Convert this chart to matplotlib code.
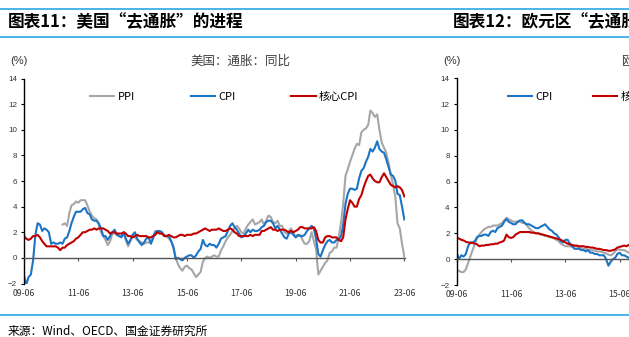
import matplotlib.pyplot as plt
from matplotlib.lines import Line2D
import pandas as pd

plt.rcParams['font.family'] = ['Noto Sans CJK SC', 'DejaVu Sans']

W, H = 629, 337

# --- US, monthly YoY %, 2009-06 .. 2023-06
us_dates = pd.date_range('2009-06-01', '2023-06-01', freq='MS')
us_cpi = [
    -1.4, -2.1, -1.5, -1.3, -0.2, 1.8, 2.7,
    2.6, 2.1, 2.3, 2.2, 2.0, 1.1, 1.2, 1.1, 1.1, 1.2, 1.1, 1.5,
    1.6, 2.1, 2.7, 3.2, 3.6, 3.6, 3.6, 3.8, 3.9, 3.5, 3.4, 3.0,
    2.9, 2.9, 2.7, 2.3, 1.7, 1.7, 1.4, 1.7, 2.0, 2.2, 1.8, 1.7,
    1.6, 2.0, 1.5, 1.1, 1.4, 1.8, 2.0, 1.5, 1.2, 1.0, 1.2, 1.5,
    1.6, 1.1, 1.5, 2.0, 2.1, 2.1, 2.0, 1.7, 1.7, 1.7, 1.3, 0.8,
    -0.1, 0.0, -0.1, -0.2, 0.0, 0.1, 0.2, 0.2, 0.0, 0.2, 0.5, 0.7,
    1.4, 1.0, 0.9, 1.1, 1.0, 1.0, 0.8, 1.1, 1.5, 1.6, 1.7, 2.1,
    2.5, 2.7, 2.4, 2.2, 1.9, 1.6, 1.7, 1.9, 2.2, 2.0, 2.2, 2.1,
    2.1, 2.2, 2.4, 2.5, 2.8, 2.9, 2.9, 2.7, 2.3, 2.5, 2.2, 1.9,
    1.6, 1.5, 1.9, 2.0, 1.8, 1.6, 1.8, 1.7, 1.7, 1.8, 2.1, 2.3,
    2.5, 2.3, 1.5, 0.3, 0.1, 0.6, 1.0, 1.3, 1.4, 1.2, 1.2, 1.4,
    1.4, 1.7, 2.6, 4.2, 5.0, 5.4, 5.4, 5.3, 5.4, 6.2, 6.8, 7.0,
    7.5, 7.9, 8.5, 8.3, 8.6, 9.1, 8.5, 8.3, 8.2, 7.7, 7.1, 6.5,
    6.4, 6.0, 5.0, 4.9, 4.0, 3.0,
]
us_core = [
    1.7, 1.5, 1.4, 1.5, 1.7, 1.7, 1.8,
    1.6, 1.3, 1.1, 0.9, 0.9, 0.9, 0.9, 0.9, 0.8, 0.6, 0.8, 0.8,
    1.0, 1.1, 1.2, 1.3, 1.5, 1.6, 1.8, 2.0, 2.0, 2.1, 2.2, 2.2,
    2.3, 2.2, 2.3, 2.3, 2.3, 2.2, 2.1, 1.9, 2.0, 2.0, 1.9, 1.9,
    1.9, 2.0, 1.9, 1.7, 1.7, 1.6, 1.7, 1.8, 1.7, 1.7, 1.7, 1.7,
    1.6, 1.6, 1.7, 1.8, 2.0, 1.9, 1.9, 1.7, 1.7, 1.8, 1.7, 1.6,
    1.6, 1.7, 1.8, 1.8, 1.7, 1.8, 1.8, 1.8, 1.9, 1.9, 2.0, 2.1,
    2.2, 2.3, 2.2, 2.1, 2.2, 2.2, 2.2, 2.3, 2.2, 2.1, 2.1, 2.2,
    2.3, 2.2, 2.0, 1.9, 1.7, 1.7, 1.7, 1.7, 1.7, 1.8, 1.7, 1.8,
    1.8, 1.8, 2.1, 2.1, 2.2, 2.3, 2.4, 2.2, 2.2, 2.1, 2.2, 2.2,
    2.2, 2.1, 2.0, 2.1, 2.0, 2.1, 2.2, 2.4, 2.4, 2.3, 2.3, 2.3,
    2.3, 2.4, 2.1, 1.4, 1.2, 1.2, 1.6, 1.7, 1.7, 1.6, 1.6, 1.6,
    1.4, 1.3, 1.6, 3.0, 3.8, 4.5, 4.3, 4.0, 4.0, 4.6, 4.9, 5.5,
    6.0, 6.4, 6.5, 6.2, 6.0, 5.9, 5.9, 6.3, 6.6, 6.3, 6.0, 5.7,
    5.6, 5.5, 5.6, 5.5, 5.3, 4.8,
]
# PPI (final demand) starts 2010-11
ppi_dates = pd.date_range('2010-11-01', '2023-06-01', freq='MS')
us_ppi = [
    2.6, 2.7,
    2.5, 3.5, 4.1, 4.2, 4.4, 4.3, 4.5, 4.5, 4.5, 4.1, 3.6, 3.3,
    3.1, 3.0, 2.6, 2.0, 1.7, 1.4, 1.0, 1.3, 1.9, 1.9, 1.8, 1.7,
    1.7, 1.9, 1.4, 0.9, 1.3, 1.7, 1.6, 1.4, 1.3, 1.2, 1.1, 1.2,
    1.2, 1.3, 1.6, 2.1, 2.0, 1.9, 1.9, 1.8, 1.7, 1.5, 1.3, 0.9,
    0.0, -0.5, -0.8, -1.0, -0.7, -0.6, -0.8, -0.9, -1.2, -1.5, -1.3, -1.1,
    -0.3, 0.0, 0.1, 0.0, 0.1, 0.2, 0.1, 0.1, 0.6, 0.9, 1.3, 1.6,
    1.8, 2.1, 2.3, 2.5, 2.3, 2.0, 1.9, 2.3, 2.6, 2.8, 3.0, 2.6,
    2.7, 2.8, 3.0, 2.6, 2.9, 3.3, 3.2, 2.8, 2.7, 2.9, 2.5, 2.5,
    2.0, 1.9, 2.1, 2.3, 2.0, 1.6, 1.7, 1.8, 1.4, 1.1, 1.1, 1.3,
    2.0, 1.3, 0.7, -1.3, -1.0, -0.7, -0.4, -0.2, 0.4, 0.5, 0.8, 0.8,
    1.6, 2.8, 4.2, 6.4, 6.9, 7.5, 8.0, 8.5, 8.9, 8.8, 9.8, 10.0,
    10.1, 10.4, 11.5, 11.3, 11.0, 11.2, 10.0, 9.0, 8.6, 8.2, 7.4, 6.5,
    5.7, 4.7, 2.7, 2.3, 1.1, 0.1,
]

# --- Euro area, monthly YoY %, visible part 2009-06 .. 2015-12
ez_dates = pd.date_range('2009-06-01', '2015-12-01', freq='MS')
ez_cpi = [
    0.5, 0.0, 0.3, 0.2, 0.4, 1.0, 1.3,
    1.3, 1.4, 1.7, 1.8, 1.8, 1.9, 1.9, 1.8, 2.1, 2.2, 2.1, 2.4,
    2.5, 2.6, 2.9, 3.1, 2.9, 2.8, 2.7, 2.7, 2.9, 3.0, 3.0, 2.8,
    2.7, 2.7, 2.6, 2.5, 2.4, 2.4, 2.5, 2.6, 2.7, 2.5, 2.3, 2.2,
    2.0, 1.9, 1.7, 1.4, 1.3, 1.5, 1.5, 1.2, 1.0, 0.8, 0.8, 0.8,
    0.7, 0.7, 0.6, 0.7, 0.5, 0.5, 0.4, 0.4, 0.3, 0.3, 0.3, 0.0,
    -0.5, -0.2, 0.0, 0.1, 0.4, 0.5, 0.3, 0.3, 0.2, 0.1, 0.2, 0.3,
]
ez_core = [
    1.65, 1.6, 1.5, 1.45, 1.35, 1.3, 1.25,
    1.25, 1.2, 1.15, 1.0, 1.05, 1.05, 1.1, 1.1, 1.15, 1.15, 1.2, 1.2,
    1.3, 1.35, 1.45, 1.9, 1.7, 1.65, 1.7, 1.9, 2.0, 2.1, 2.1, 2.1,
    2.1, 2.1, 2.05, 2.05, 2.0, 2.0, 1.95, 1.9, 1.85, 1.8, 1.75, 1.7,
    1.65, 1.6, 1.55, 1.5, 1.4, 1.3, 1.2, 1.15, 1.1, 1.05, 1.05, 1.0,
    1.0, 1.0, 0.95, 0.95, 0.9, 0.9, 0.85, 0.8, 0.8, 0.75, 0.7, 0.7,
    0.65, 0.65, 0.7, 0.75, 0.9, 0.95, 1.0, 1.05, 1.0, 1.1, 1.1, 1.1,
]
ez_other = [
    -0.8, -0.9, -1.0, -1.0, -0.8, -0.3, 0.2,
    0.7, 1.2, 1.6, 1.9, 2.1, 2.3, 2.4, 2.5, 2.5, 2.6, 2.6, 2.6,
    2.7, 2.8, 3.0, 3.2, 3.1, 3.0, 2.9, 2.9, 2.9, 2.9, 2.8, 2.8,
    2.6, 2.4, 2.2, 2.1, 2.0, 2.0, 1.9, 1.9, 1.8, 1.8, 1.7, 1.7,
    1.6, 1.5, 1.4, 1.2, 1.1, 1.0, 1.0, 1.0, 0.95, 1.0, 1.0, 0.9,
    0.85, 0.8, 0.8, 0.75, 0.7, 0.7, 0.65, 0.6, 0.6, 0.55, 0.5, 0.45,
    0.35, 0.3, 0.4, 0.6, 0.75, 0.75, 0.7, 0.7, 0.6, 0.5, 0.45, 0.4,
]

tick_dates = [pd.Timestamp(f'{y}-06-01') for y in range(2009, 2024, 2)]
tick_labels = [d.strftime('%y-%m') for d in tick_dates]

GRAY = '#A6A6A6'
BLUE = '#1C74C4'
RED = '#C00000'
SKY = '#3AAEE6'

fig = plt.figure(figsize=(W / 100, H / 100), dpi=100)


def px_axes(x0, y_top, x1, y_bot):
    return fig.add_axes([x0 / W, 1 - y_bot / H, (x1 - x0) / W, (y_bot - y_top) / H])


def style(ax):
    ax.set_ylim(-2, 14)
    ax.set_yticks(range(-2, 15, 2))
    ax.set_xlim(pd.Timestamp('2009-06-01'), pd.Timestamp('2023-06-10'))
    ax.set_xticks(tick_dates)
    ax.set_xticklabels(tick_labels, family='Liberation Sans')
    for lab in ax.get_yticklabels():
        lab.set_family('Liberation Sans')
    ax.patch.set_visible(False)
    for s in ['top', 'right']:
        ax.spines[s].set_visible(False)
    ax.spines['bottom'].set_position(('data', 0))
    ax.spines['bottom'].set_color('#555555')
    ax.spines['bottom'].set_linewidth(1.0)
    ax.spines['left'].set_linewidth(1.0)
    ax.tick_params(axis='x', direction='out', length=2, width=0.8,
                   pad=20.5, labelsize=6.3, labelcolor='#333333', color='#555555')
    ax.tick_params(axis='y', direction='out', length=2.5, width=0.8,
                   pad=2.5, labelsize=5.8, labelcolor='#333333')


# left panel: US
ax1 = px_axes(24, 78.5, 405, 283.5)
ax1.plot(ppi_dates, us_ppi, color=GRAY, lw=1.5, label='PPI')
ax1.plot(us_dates, us_cpi, color=BLUE, lw=1.5, label='CPI')
ax1.plot(us_dates, us_core, color=RED, lw=1.5, label='核心CPI')
style(ax1)
ax1.legend(ncol=3, loc='center left', bbox_to_anchor=(90 / W, 1 - 97 / H),
           bbox_transform=fig.transFigure, frameon=False, fontsize=8,
           handlelength=2.2, handletextpad=0.3, columnspacing=5.0,
           borderpad=0, borderaxespad=0)

# right panel: euro area (runs off the page edge)
ax2 = px_axes(456.7, 78.3, 456.7 + 381, 285)
ax2.plot(ez_dates, ez_other, color=GRAY, lw=1.5)
ax2.plot(ez_dates, ez_cpi, color=BLUE, lw=1.5, label='CPI')
ax2.plot(ez_dates, ez_core, color=RED, lw=1.5, label='核心CPI')
style(ax2)
ax2.legend(ncol=2, loc='center left', bbox_to_anchor=(508 / W, 1 - 97 / H),
           bbox_transform=fig.transFigure, frameon=False, fontsize=8,
           handlelength=2.2, handletextpad=0.3, columnspacing=3.6,
           borderpad=0, borderaxespad=0)

# titles, units, notes
fig.text(8 / W, 1 - 22 / H, '图表11：美国“去通胀”的进程', fontsize=12,
         fontweight='bold', va='center')
fig.text(453 / W, 1 - 22 / H, '图表12：欧元区“去通胀”的进程', fontsize=12,
         fontweight='bold', va='center')
fig.text(10 / W, 1 - 61 / H, '(%)', family='Liberation Sans', fontsize=8,
         color='#333333', va='center')
fig.text(443 / W, 1 - 61 / H, '(%)', family='Liberation Sans', fontsize=8,
         color='#333333', va='center')
fig.text(190 / W, 1 - 61 / H, '美国：通胀：同比', fontsize=9, color='#404040',
         va='center')
fig.text(621 / W, 1 - 61 / H, '欧元区：通胀：同比', fontsize=9, color='#404040',
         va='center')
fig.text(8 / W, 1 - 331 / H, '来源：Wind、OECD、国金证券研究所', fontsize=8.5,
         va='center')

# blue rules
for yy in [9, 37, 315]:
    fig.add_artist(Line2D([0, 1], [1 - yy / H] * 2, transform=fig.transFigure,
                          color=SKY, lw=1.3))

fig.savefig('out.png', dpi=100)
